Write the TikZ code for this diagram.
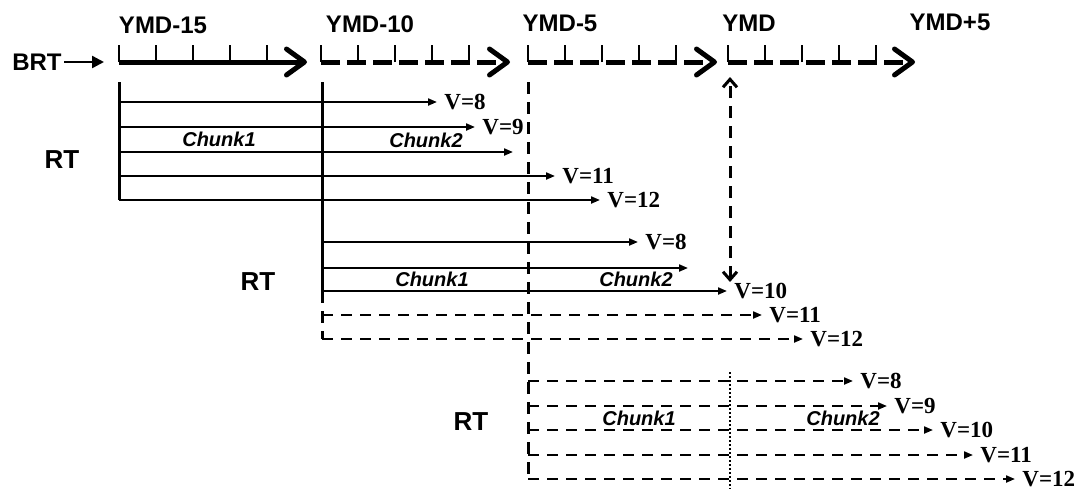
\documentclass[tikz,border=0pt]{standalone}
\usepackage{fontspec}
\setmainfont{Liberation Serif}
\setsansfont{Liberation Sans}
\usetikzlibrary{arrows.meta}

\tikzset{
    axis/.style={line width=2.5pt,-{Straight Barb[length=9pt,width=13pt,round]}},
    axisdash/.style={axis,dash pattern=on 9.5pt off 3.5pt},
    tick/.style={line width=1.2pt},
    stem/.style={line width=1.5pt},
    stemdash/.style={stem,dash pattern=on 6pt off 4pt},
    run/.style={line width=1pt,-{Triangle[length=4.5pt,width=3.5pt]}},
    rundash/.style={run,dash pattern=on 5.5pt off 4pt},
    vlab/.style={anchor=west,inner xsep=3.5pt,inner ysep=1pt,font=\fontsize{11.5}{13}\selectfont\bfseries},
    ymd/.style={inner sep=1pt,font=\fontsize{12}{14}\selectfont\sffamily\bfseries},
    rt/.style={font=\fontsize{13}{15}\selectfont\sffamily\bfseries},
    chunk/.style={font=\fontsize{10}{12}\selectfont\sffamily\bfseries\itshape},
}

\begin{document}
\begin{tikzpicture}[x=0.5pt,y=-0.5pt]
    \useasboundingbox (0,0) rectangle (1075,489);

    \node[ymd] (brt) at (37,62) {BRT};
    \coordinate (brtend) at (104,62);
    \draw[line width=1.2pt,-{Triangle[length=6pt,width=6pt]}] (brt.east) -- (brtend);

    \node[ymd] (l15) at (163,25) {YMD-15};
    \node[ymd] (l10) at (370,24) {YMD-10};
    \node[ymd] (l5) at (560,23) {YMD-5};
    \node[ymd] (l0) at (749,23) {YMD};
    \node[ymd] (lp5) at (950,22) {YMD+5};

    \coordinate (a15) at (119,62);
    \coordinate (b15) at (307,62);
    \coordinate (a10) at (321,62);
    \coordinate (b10) at (510,62);
    \coordinate (a5) at (528,62);
    \coordinate (b5) at (717,62);
    \coordinate (a0) at (728,62);
    \coordinate (b0) at (915,62);
    \draw[axis] (a15) -- (b15);
    \draw[axisdash] (a10) -- (b10);
    \draw[axisdash] (a5) -- (b5);
    \draw[axisdash] (a0) -- (b0);
    \foreach \s in {119,321,528,728} {
        \foreach \k in {0,...,4}
            \draw[tick] (\s+37*\k,62) -- ++(0,-17);
    }

    % first group
    \coordinate (g1) at (119,82);
    \node[rt] (rt1) at (62,160) {RT};
    \node[vlab] (g1v8) at (437,102) {V=8};
    \node[vlab] (g1v9) at (475,127) {V=9};
    \coordinate (g1c) at (513,152);
    \node[vlab] (g1v11) at (555,176) {V=11};
    \node[vlab] (g1v12) at (600,200) {V=12};
    \draw[stem] (g1) -- (g1 |- g1v12);
    \draw[run] (g1 |- g1v8) -- (g1v8.west);
    \draw[run] (g1 |- g1v9) -- (g1v9.west);
    \draw[run] (g1 |- g1c) -- (g1c);
    \draw[run] (g1 |- g1v11) -- (g1v11.west);
    \draw[run] (g1 |- g1v12) -- (g1v12.west);
    \node[chunk] (c11) at (219,139) {Chunk1};
    \node[chunk] (c12) at (426,140) {Chunk2};

    % second group
    \coordinate (g2) at (322,82);
    \node[rt] (rt2) at (258,282) {RT};
    \node[vlab] (g2v8) at (638,242) {V=8};
    \coordinate (g2b) at (688,268);
    \node[vlab] (g2v10) at (727,291) {V=10};
    \node[vlab] (g2v11) at (762,315) {V=11};
    \node[vlab] (g2v12) at (803,339) {V=12};
    \draw[stem] (g2) -- (g2 |- g2v10);
    \draw[stemdash] (g2 |- g2v10) -- (g2 |- g2v12);
    \draw[run] (g2 |- g2v8) -- (g2v8.west);
    \draw[run] (g2 |- g2b) -- (g2b);
    \draw[run] (g2 |- g2v10) -- (g2v10.west);
    \draw[rundash] (g2 |- g2v11) -- (g2v11.west);
    \draw[rundash] (g2 |- g2v12) -- (g2v12.west);
    \node[chunk] (c21) at (432,279) {Chunk1};
    \node[chunk] (c22) at (636,279) {Chunk2};

    % third group
    \coordinate (g3) at (528,82);
    \node[rt] (rt3) at (471,422) {RT};
    \node[vlab] (g3v8) at (853,381) {V=8};
    \node[vlab] (g3v9) at (887,406) {V=9};
    \node[vlab] (g3v10) at (933,430) {V=10};
    \node[vlab] (g3v11) at (973,455) {V=11};
    \node[vlab] (g3v12) at (1015,479) {V=12};
    \draw[stemdash] (g3) -- (g3 |- g3v12);
    \draw[rundash] (g3 |- g3v8) -- (g3v8.west);
    \draw[rundash] (g3 |- g3v9) -- (g3v9.west);
    \draw[rundash] (g3 |- g3v10) -- (g3v10.west);
    \draw[rundash] (g3 |- g3v11) -- (g3v11.west);
    \draw[rundash] (g3 |- g3v12) -- (g3v12.west);
    \node[chunk] (c31) at (639,418) {Chunk1};
    \node[chunk] (c32) at (843,418) {Chunk2};
    \coordinate (d0) at (730,372);
    \coordinate (d1) at (730,489);
    \draw[line width=1.2pt,dash pattern=on 1pt off 1pt] (d0) -- (d1);

    % release date
    \coordinate (ymdtop) at (730,77);
    \coordinate (ymdbot) at (730,282);
    \draw[stemdash,{Straight Barb[length=4pt,width=7pt]}-{Straight Barb[length=4pt,width=7pt]}] (ymdbot) -- (ymdtop);
\end{tikzpicture}
\end{document}
